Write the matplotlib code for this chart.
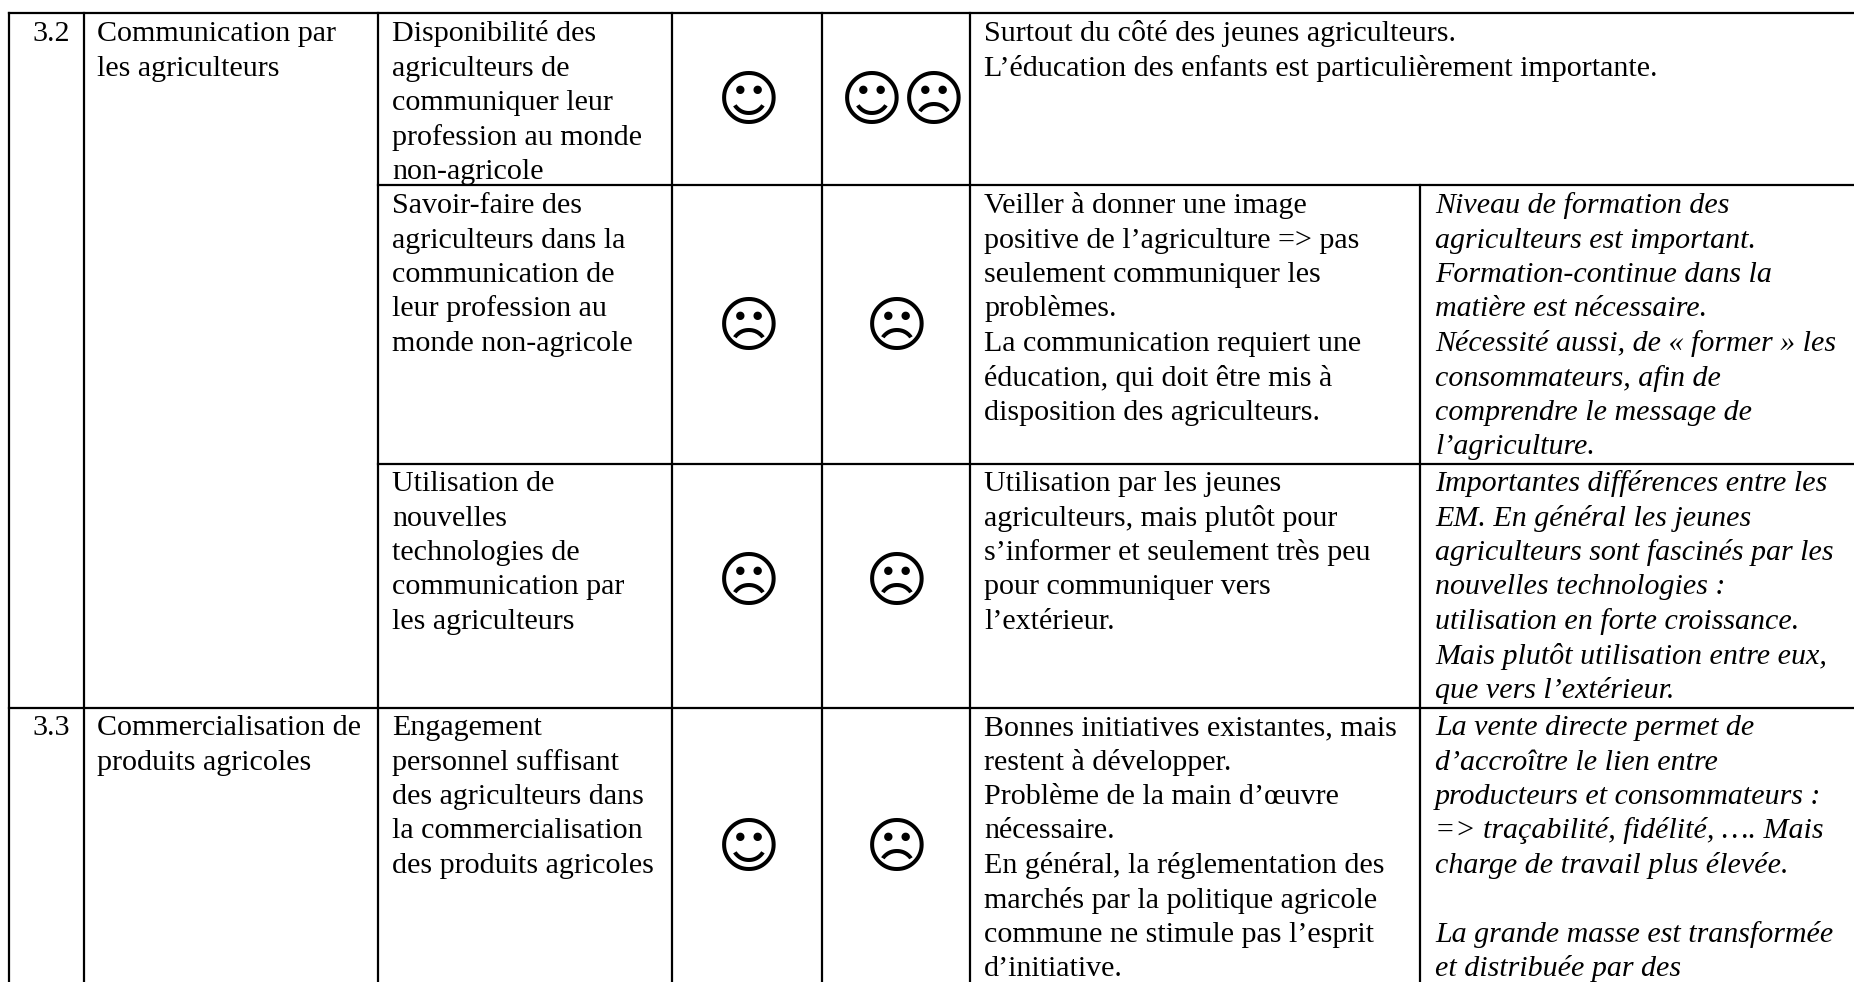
import matplotlib
matplotlib.use("Agg")
import matplotlib.pyplot as plt

SMILE = "\u263a"
FROWN = "\u2639"

# cell contents, one list per column
numbers = ["3.2", "3.3"]
topics = [
    ["Communication par", "les agriculteurs"],
    ["Commercialisation de", "produits agricoles"],
]
criteria = [
    ["Disponibilité des", "agriculteurs de", "communiquer leur", "profession au monde", "non-agricole"],
    ["Savoir-faire des", "agriculteurs dans la", "communication de", "leur profession au", "monde non-agricole"],
    ["Utilisation de", "nouvelles", "technologies de", "communication par", "les agriculteurs"],
    ["Engagement", "personnel suffisant", "des agriculteurs dans", "la commercialisation", "des produits agricoles"],
]
faces_a = [SMILE, FROWN, FROWN, SMILE]
faces_b = [[SMILE, FROWN], [FROWN], [FROWN], [FROWN]]
comments = [
    ["Surtout du côté des jeunes agriculteurs.", "L’éducation des enfants est particulièrement importante."],
    ["Veiller à donner une image", "positive de l’agriculture => pas", "seulement communiquer les", "problèmes.",
     "La communication requiert une", "éducation, qui doit être mis à", "disposition des agriculteurs."],
    ["Utilisation par les jeunes", "agriculteurs, mais plutôt pour", "s’informer et seulement très peu",
     "pour communiquer vers", "l’extérieur."],
    ["Bonnes initiatives existantes, mais", "restent à développer.", "Problème de la main d’œuvre", "nécessaire.",
     "En général, la réglementation des", "marchés par la politique agricole", "commune ne stimule pas l’esprit",
     "d’initiative."],
]
notes = [
    [],
    ["Niveau de formation des", "agriculteurs est important.", "Formation-continue dans la", "matière est nécessaire.",
     "Nécessité aussi, de « former » les", "consommateurs, afin de", "comprendre le message de", "l’agriculture."],
    ["Importantes différences entre les", "EM. En général les jeunes", "agriculteurs sont fascinés par les",
     "nouvelles technologies :", "utilisation en forte croissance.", "Mais plutôt utilisation entre eux,",
     "que vers l’extérieur."],
    ["La vente directe permet de", "d’accroître le lien entre", "producteurs et consommateurs :",
     "=> traçabilité, fidélité, …. Mais", "charge de travail plus élevée.", "", "La grande masse est transformée",
     "et distribuée par des"],
]

# layout in reference pixels
W, H = 1854, 982
TOP = 13
COLS = [9, 84, 378, 672.5, 822, 970, 1420]
ROW_LINES = [185, 464, 708]
BASELINES = [41, 213, 491, 735]
FACE_Y = [97, 323, 578, 844]
PITCH = 34.5
FS = 21.6
LW = 1.6
SERIF = "Liberation Serif"

fig = plt.figure(figsize=(W / 100, H / 100), dpi=100)
ax = fig.add_axes([0, 0, 1, 1])
ax.set_xlim(0, W)
ax.set_ylim(H, 0)
ax.axis("off")


def block(x, y, lines, **kw):
    for i, line in enumerate(lines):
        ax.text(x, y + i * PITCH, line, family=SERIF, fontsize=FS, va="baseline", ha="left", color="black", **kw)


def face(x, y, glyph):
    ax.text(x, y, glyph, family="DejaVu Sans", fontsize=44, ha="center", va="center_baseline", color="black")


# grid
ax.plot([COLS[0], W], [TOP, TOP], color="black", lw=LW)
for x in COLS[:-1]:
    ax.plot([x, x], [TOP, H], color="black", lw=LW)
ax.plot([COLS[-1], COLS[-1]], [ROW_LINES[0], H], color="black", lw=LW)
ax.plot([COLS[2], W], [ROW_LINES[0], ROW_LINES[0]], color="black", lw=LW)
ax.plot([COLS[2], W], [ROW_LINES[1], ROW_LINES[1]], color="black", lw=LW)
ax.plot([COLS[0], W], [ROW_LINES[2], ROW_LINES[2]], color="black", lw=LW)

# section columns
for num, topic, y in zip(numbers, topics, [BASELINES[0], BASELINES[3]]):
    block(32, y, [num])
    block(97, y, topic)

# one row per criterion
for i, y in enumerate(BASELINES):
    block(392.5, y, criteria[i])
    block(984, y, comments[i])
    block(1435, y, notes[i], style="italic")
    face(749, FACE_Y[i], faces_a[i])
    if len(faces_b[i]) == 2:
        face(872, FACE_Y[i], faces_b[i][0])
        face(934, FACE_Y[i], faces_b[i][1])
    else:
        face(897, FACE_Y[i], faces_b[i][0])

fig.savefig("out.png", dpi=100)
plt.close(fig)
